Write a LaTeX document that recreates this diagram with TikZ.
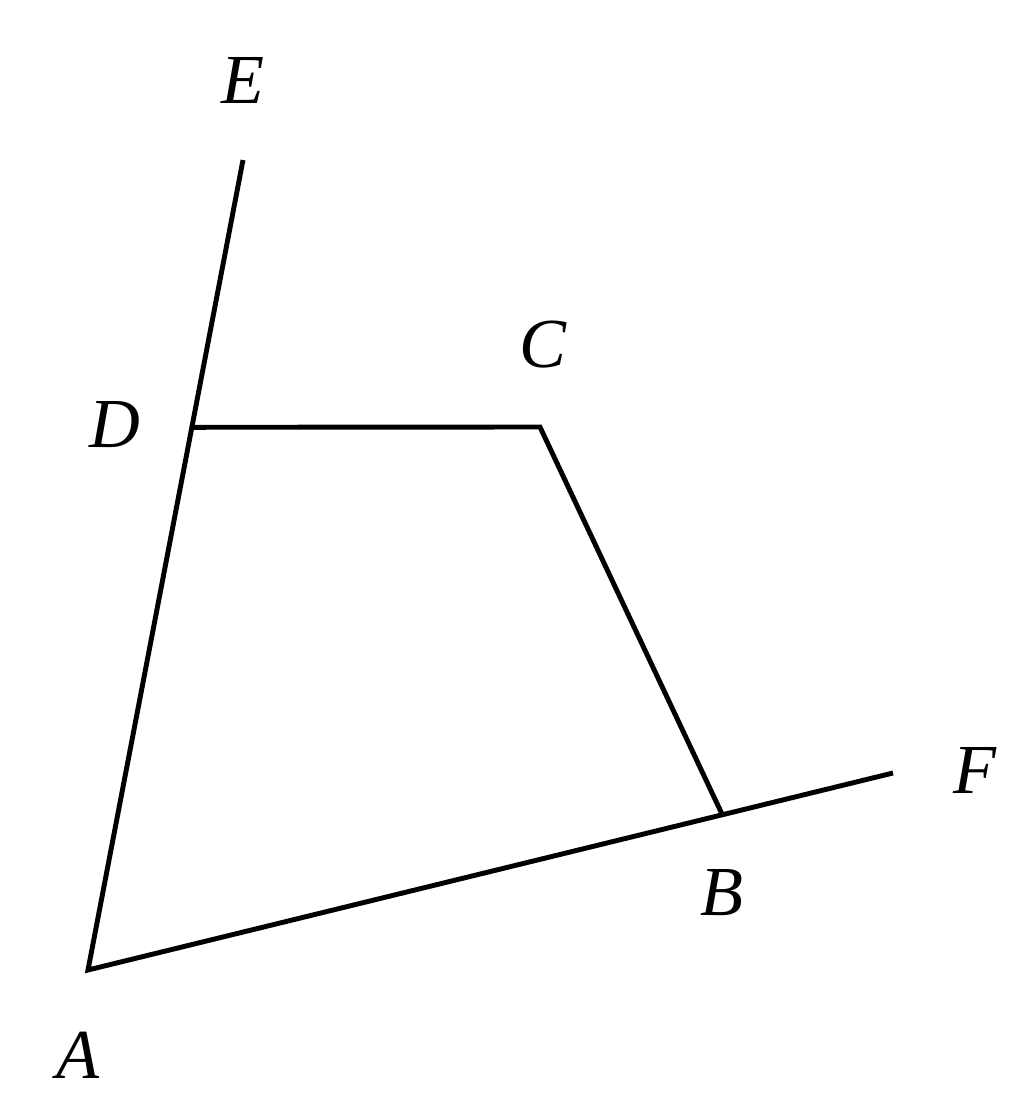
\documentclass[tikz,border=0pt]{standalone}
\usepackage{fontspec}
\setmainfont{Liberation Serif}
\usetikzlibrary{calc}
\tikzset{lbl/.style={font=\fontsize{20}{24}\selectfont\itshape}}
\begin{document}
\begin{tikzpicture}[line width=1.4pt]
    \useasboundingbox (0,0) rectangle (10.24,11.13);
    \coordinate (A) at (0.88,1.43);
    \coordinate (E) at (2.43,9.53);
    \coordinate (F) at (8.93,3.40);
    \coordinate (D) at ($(A)!0.67!(E)$);
    \coordinate (B) at ($(A)!0.788!(F)$);
    \coordinate (C) at (5.40,6.86);

    \draw (E) -- (A) -- (F);
    \draw (D) -- (C) -- (B);

    \node[lbl] (lE) at (2.43,10.33) {E};
    \node[lbl] (lC) at (5.43,7.68) {C};
    \node[lbl] (lD) at (1.15,6.88) {D};
    \node[lbl] (lF) at (9.75,3.43) {F};
    \node[lbl] (lB) at (7.22,2.20) {B};
    \node[lbl] (lA) at (0.78,0.58) {A};
  \end{tikzpicture}
\end{document}
